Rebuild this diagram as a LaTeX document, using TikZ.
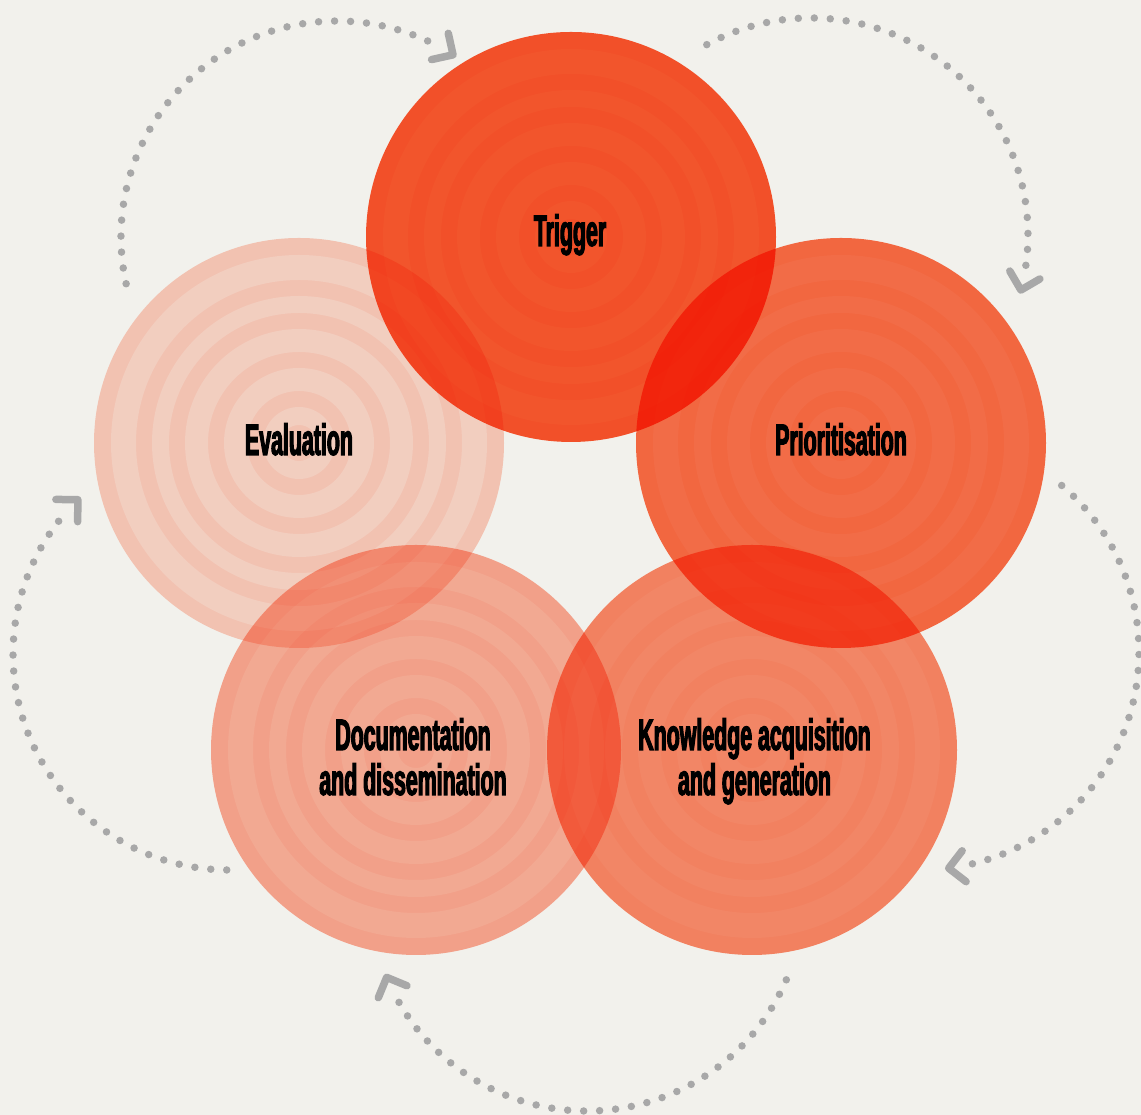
\documentclass[tikz,border=0pt]{standalone}
\usepackage{fontspec}
\newfontfamily\labfont{Liberation Sans}[FakeStretch=0.485,FakeBold=2.5]
\definecolor{bgcol}{RGB}{242,241,236}
\definecolor{arrowgray}{RGB}{168,168,168}
\definecolor{trigD}{RGB}{255,85,45}
\definecolor{trigL}{RGB}{255,90,48}
\definecolor{prioD}{RGB}{255,110,70}
\definecolor{prioL}{RGB}{255,115,77}
\definecolor{knowD}{RGB}{255,137,104}
\definecolor{knowL}{RGB}{255,142,111}
\definecolor{docD}{RGB}{255,170,149}
\definecolor{docL}{RGB}{255,179,158}
\definecolor{evalD}{RGB}{255,206,192}
\definecolor{evalL}{RGB}{255,218,207}
\begin{document}
\begin{tikzpicture}[x=1pt,y=1pt,
  dotline/.style={draw=arrowgray, line width=7.5pt, line cap=round, dash pattern=on 0pt off 16pt},
  chevron/.style={draw=arrowgray, line width=7.5pt, line cap=round, line join=round},
  lab/.style={font=\labfont\bfseries\fontsize{44}{45}\selectfont, text=black, inner sep=0pt, anchor=base}]
\useasboundingbox (0,0) rectangle (1141,1115);
\fill[bgcol] (0,0) rectangle (1141,1115);
% circle centres
\coordinate (trig) at (571,878);
\coordinate (prio) at (841,672);
\coordinate (know) at (752,365);
\coordinate (doc) at (416,365);
\coordinate (eval) at (299,672);
% arc centres
\coordinate (ac1) at (337,878);
\coordinate (ac2) at (811,880);
\coordinate (ac3) at (921,463);
\coordinate (ac4) at (587,221);
\coordinate (ac5) at (229,461);
% circles
\begin{scope}[blend mode=multiply]
\foreach \c/\d/\l in {eval/evalD/evalL, doc/docD/docL, know/knowD/knowL, prio/prioD/prioL, trig/trigD/trigL}{
  \begin{scope}[transparency group]
    \fill[\d] (\c) circle[radius=205];
    \fill[\l, even odd rule] (\c) circle[radius=188] circle[radius=163]
       circle[radius=147] circle[radius=130] circle[radius=114] circle[radius=91]
       circle[radius=75] circle[radius=52] circle[radius=36] circle[radius=18];
  \end{scope}
}
\end{scope}
% dotted arcs with chevrons
\foreach \n/\r/\s/\e/\v in {ac1/216/192.5/62/57.5, ac2/217/118.7/-10.3/-14.7,
   ac3/218/49.8/-78.8/-82.7, ac4/217/-23.3/-152.7/-157.4, ac5/216/269.4/138.8/134.4}{
  \pgfmathsetmacro{\aA}{\v+45}
  \pgfmathsetmacro{\aB}{\v+135}
  \draw[dotline] ([shift={(\s:\r)}]\n) arc[start angle=\s, end angle=\e, radius=\r];
  \coordinate (tip-\n) at ([shift={(\v:\r)}]\n);
  \draw[chevron] ([shift={(\aA:22)}]tip-\n) -- (tip-\n) -- ([shift={(\aB:22)}]tip-\n);
}
% labels
\node[lab] (ltrig) at (570,869) {Trigger};
\node[lab] (leval) at (299,660) {Evaluation};
\node[lab] (lprio) at (841,660) {Prioritisation};
\node[lab] (lknow1) at (754.5,365) {Knowledge acquisition};
\node[lab] (lknow2) at (754.5,320) {and generation};
\node[lab] (ldoc1) at (413,365) {Documentation};
\node[lab] (ldoc2) at (413,320) {and dissemination};
\end{tikzpicture}
\end{document}
